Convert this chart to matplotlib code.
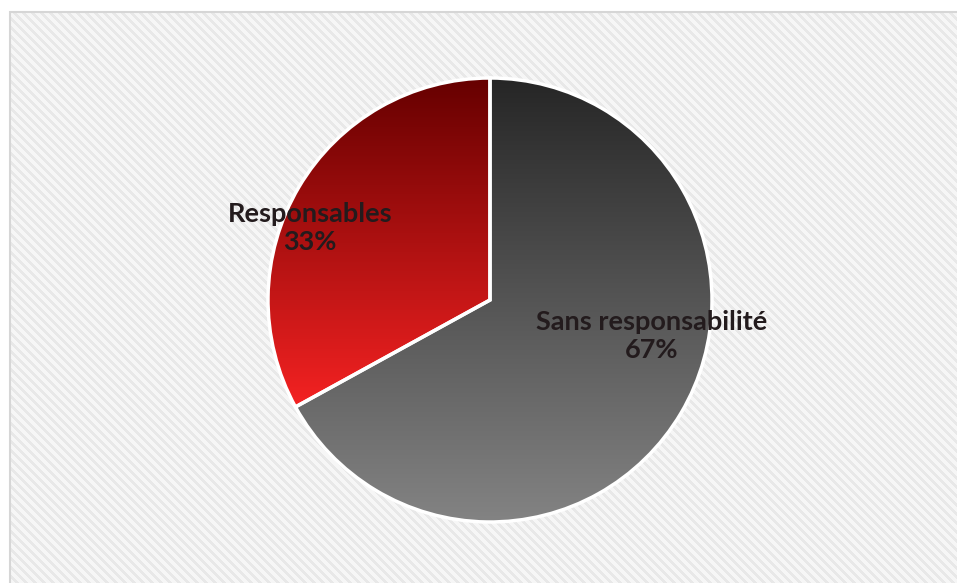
import matplotlib.pyplot as plt
import matplotlib.colors as mcolors
from matplotlib.patches import Rectangle
import numpy as np

categories = ['Responsables', 'Sans responsabilité']
shares = [33, 67]
label_text = ['Responsables\n33%', 'Sans responsabilité\n67%']

W, H = 957, 583
cx, cy, r = 490, H - 300, 222

fig = plt.figure(figsize=(W / 100, H / 100), dpi=100)
ax = fig.add_axes([0, 0, 1, 1])
ax.set_xlim(0, W)
ax.set_ylim(0, H)
ax.axis('off')

# diagonal striped background inside the frame
yy, xx = np.mgrid[0:H, 0:W]
stripes = ((xx - yy) % 9) < 4
bg = np.where(stripes, 0.91, 0.965)
bg = np.stack([bg, bg, bg], axis=-1)
bg[:12, :] = 1.0
bg[:, :10] = 1.0
ax.imshow(bg, extent=(0, W, 0, H), origin='upper', interpolation='nearest', zorder=0)
ax.add_patch(Rectangle((10, -5), W, H - 12 + 5, fill=False, edgecolor='#d6d6d6', lw=1.5, zorder=1))

# pie with vertical gradient fill
wedges, _ = ax.pie(shares, startangle=90, counterclock=True, center=(cx, cy), radius=r,
                   wedgeprops=dict(facecolor='none', edgecolor='none'), frame=True)
grads = [('#660000', '#f42222'), ('#262626', '#838383')]
for w, (c_top, c_bot) in zip(wedges, grads):
    bb = w.get_path().get_extents(w.get_transform() + ax.transData.inverted())
    cmap = mcolors.LinearSegmentedColormap.from_list('g', [c_bot, c_top])
    grad = np.linspace(0, 1, 256).reshape(-1, 1)
    im = ax.imshow(grad, cmap=cmap, extent=(bb.x0, bb.x1, bb.y0, bb.y1), origin='lower',
                   aspect='auto', interpolation='bilinear', zorder=2)
    im.set_clip_path(w)

ax.pie(shares, startangle=90, counterclock=True, center=(cx, cy), radius=r,
       wedgeprops=dict(facecolor='none', edgecolor='white', linewidth=2.5, zorder=3), frame=True)
ax.set_xlim(0, W)
ax.set_ylim(0, H)
ax.set_aspect('auto')
ax.axis('off')

offsets = [(-180, 72), (162, -36)]
for txt, (dx, dy) in zip(label_text, offsets):
    ax.text(cx + dx, cy + dy, txt, ha='center', va='center', fontsize=19.5, fontweight='bold',
            family=['Lato', 'DejaVu Sans'], color='#231b1d', linespacing=1.15, zorder=4)

fig.savefig('out.png', dpi=100)
